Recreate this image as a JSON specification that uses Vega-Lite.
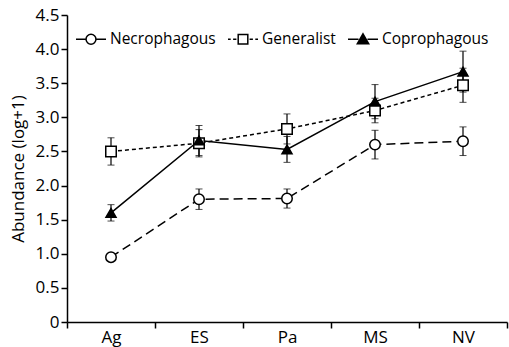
{
  "$schema": "https://vega.github.io/schema/vega-lite/v6.json",
  "width": 440,
  "height": 307,
  "autosize": {"type": "none"},
  "padding": {"left": 67, "top": 15, "right": 2, "bottom": 25},
  "background": "white",
  "config": {
    "view": {"stroke": null},
    "font": "Open Sans",
    "axis": {"grid": false, "domainColor": "black", "tickColor": "black", "labelColor": "black", "titleColor": "black", "labelFont": "Open Sans", "titleFont": "Open Sans", "domainWidth": 1.5, "tickWidth": 1.5, "labelOverlap": false, "labelFontSize": 17, "titleFontSize": 17}
  },
  "data": {
    "values": [
      {"site": "Ag", "series": "Necrophagous", "mean": 0.95, "lo": 0.9, "hi": 1.0},
      {"site": "ES", "series": "Necrophagous", "mean": 1.8, "lo": 1.65, "hi": 1.95},
      {"site": "Pa", "series": "Necrophagous", "mean": 1.81, "lo": 1.67, "hi": 1.95},
      {"site": "MS", "series": "Necrophagous", "mean": 2.6, "lo": 2.39, "hi": 2.81},
      {"site": "NV", "series": "Necrophagous", "mean": 2.65, "lo": 2.44, "hi": 2.86},
      {"site": "Ag", "series": "Generalist", "mean": 2.5, "lo": 2.3, "hi": 2.7},
      {"site": "ES", "series": "Generalist", "mean": 2.62, "lo": 2.42, "hi": 2.82},
      {"site": "Pa", "series": "Generalist", "mean": 2.83, "lo": 2.61, "hi": 3.05},
      {"site": "MS", "series": "Generalist", "mean": 3.1, "lo": 2.92, "hi": 3.28},
      {"site": "NV", "series": "Generalist", "mean": 3.47, "lo": 3.22, "hi": 3.72},
      {"site": "Ag", "series": "Coprophagous", "mean": 1.6, "lo": 1.48, "hi": 1.72},
      {"site": "ES", "series": "Coprophagous", "mean": 2.66, "lo": 2.44, "hi": 2.88},
      {"site": "Pa", "series": "Coprophagous", "mean": 2.53, "lo": 2.34, "hi": 2.72},
      {"site": "MS", "series": "Coprophagous", "mean": 3.23, "lo": 2.98, "hi": 3.48},
      {"site": "NV", "series": "Coprophagous", "mean": 3.67, "lo": 3.37, "hi": 3.97}
    ]
  },
  "encoding": {
    "x": {
      "field": "site", "type": "nominal", "sort": ["Ag", "ES", "Pa", "MS", "NV"],
      "scale": {"type": "band", "paddingInner": 0, "paddingOuter": 0},
      "axis": {"title": null, "labelAngle": 0, "tickBand": "extent", "tickSize": 6, "labelFontSize": 17, "labelPadding": 1}
    },
    "y": {"field": "mean", "type": "quantitative", "title": "Abundance (log+1)", "scale": {"domain": [0, 4.5], "nice": false},
      "axis": {"title": "Abundance (log+1)", "values": [0, 0.5, 1, 1.5, 2, 2.5, 3, 3.5, 4, 4.5], "labelExpr": "datum.value == 0 ? '0' : format(datum.value, '.1f')", "tickSize": 6, "labelFontSize": 17, "titleFontSize": 17, "titleFontWeight": "normal", "labelPadding": 2, "titlePadding": 8, "labelOverlap": false}}
  },
  "layer": [
    {
      "transform": [{"filter": "datum.series === 'Necrophagous'"}],
      "mark": {"type": "line", "stroke": "black", "strokeWidth": 1.5, "strokeDash": [9, 5]}
    },
    {
      "transform": [{"filter": "datum.series === 'Generalist'"}],
      "mark": {"type": "line", "stroke": "black", "strokeWidth": 1.5, "strokeDash": [4, 3]}
    },
    {
      "transform": [{"filter": "datum.series === 'Coprophagous'"}],
      "mark": {"type": "line", "stroke": "black", "strokeWidth": 1.5}
    },
    {
      "mark": {"type": "errorbar", "color": "black", "ticks": {"size": 7, "color": "black", "strokeWidth": 1.2}, "rule": {"strokeWidth": 1.2}},
      "encoding": {
        "y": {"field": "lo", "type": "quantitative", "title": "Abundance (log+1)"},
        "y2": {"field": "hi"},
        "detail": {"field": "series"}
      }
    },
    {
      "transform": [{"filter": "datum.series === 'Necrophagous'"}],
      "mark": {"type": "point", "shape": "circle", "fill": "white", "filled": true, "stroke": "black", "strokeWidth": 1.5, "size": 110, "opacity": 1}
    },
    {
      "transform": [{"filter": "datum.series === 'Generalist'"}],
      "mark": {"type": "point", "shape": "square", "fill": "white", "filled": true, "stroke": "black", "strokeWidth": 1.5, "size": 110, "opacity": 1}
    },
    {
      "transform": [{"filter": "datum.series === 'Coprophagous'"}],
      "mark": {"type": "point", "shape": "triangle-up", "fill": "black", "filled": true, "stroke": "black", "strokeWidth": 1.5, "size": 100, "opacity": 1}
    },
    {
      "mark": {"type": "point", "filled": false, "strokeWidth": 1.5, "size": 0, "opacity": 1},
      "encoding": {
        "shape": {"field": "series", "type": "nominal",
          "scale": {"domain": ["Necrophagous", "Generalist", "Coprophagous"], "range": [
            "M-1,0H-0.33M0.33,0H1M0.33,0A0.33,0.33 0 1 1 -0.33,0A0.33,0.33 0 1 1 0.33,0Z",
            "M-1,0H-0.82M-0.66,0H-0.44M0.44,0H0.66M0.82,0H1M-0.32,-0.32H0.32V0.32H-0.32Z",
            "M-1,0H-0.3M0.3,0H1M0,-0.36L0.38,0.3H-0.38ZM0,-0.24L0.27,0.23H-0.27ZM0,-0.12L0.16,0.17H-0.16ZM0,0L0.06,0.1H-0.06Z"
          ]},
          "legend": {
            "title": null, "orient": "top-left", "direction": "horizontal", "offset": 8,
            "labelFontSize": 15.5, "labelColor": "black", "labelFont": "Open Sans", "labelOffset": 3, "columnPadding": 9, "symbolSize": 900,
            "symbolOpacity": 1, "symbolStrokeWidth": 1.5
          }
        },
        "stroke": {"field": "series", "type": "nominal",
          "scale": {"domain": ["Necrophagous", "Generalist", "Coprophagous"], "range": ["black", "black", "black"]}}
      }
    }
  ]
}
